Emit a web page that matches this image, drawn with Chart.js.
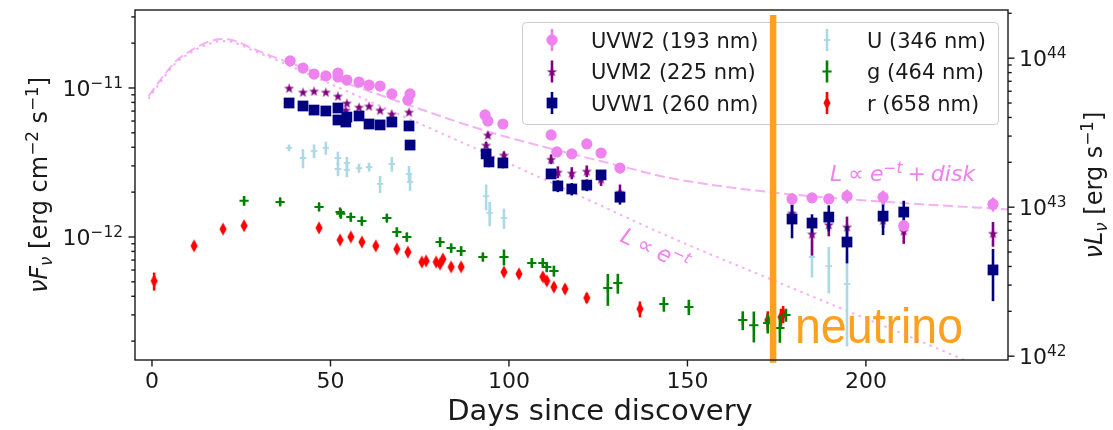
<!DOCTYPE html>
<html>
<head>
<meta charset="utf-8">
<script src="https://cdn.jsdelivr.net/npm/chart.js@4"></script>
<style>
  html, body { margin: 0; padding: 0; background: #fff; }
</style>
</head>
<body>
<canvas id="grafico" width="1113" height="430"></canvas>
<script>
// --- Dados (fluxo νFν em erg cm^-2 s^-1, tempo em dias desde a descoberta) ---
const diasUVW2 = [38.7, 42.3, 45.4, 48.7, 52.1, 52.1, 54.6, 58.0, 60.8, 63.9, 67.2, 72.3, 71.7, 93.3, 94.1, 98.3,
  111.8, 113.4, 117.6, 121.8, 125.8, 131.1, 179.3, 184.9, 189.6, 194.7, 204.8, 210.6, 235.6];
const fluxoUVW2 = [1.52e-11, 1.36e-11, 1.24e-11, 1.205e-11, 1.26e-11, 1.186e-11, 1.13e-11, 1.096e-11, 1.047e-11, 1.03e-11,
  9.12e-12, 9.12e-12, 8.3e-12, 6.59e-12, 6.01e-12, 5.73e-12, 4.84e-12, 3.72e-12, 3.61e-12, 4.21e-12, 3.66e-12, 2.90e-12,
  1.80e-12, 1.83e-12, 1.80e-12, 1.88e-12, 1.85e-12, 1.19e-12, 1.66e-12];
const erroUVW2 = [2e-13, 2e-13, 2e-13, 2e-13, 2e-13, 2e-13, 2e-13, 2e-13, 2e-13, 2e-13, 2e-13, 2e-13, 2e-13,
  1.5e-13, 1.5e-13, 1.5e-13, 1.5e-13, 1.5e-13, 1.5e-13, 1.5e-13, 1.5e-13, 1.5e-13,
  1.6e-13, 1e-13, 1.2e-13, 2e-13, 2e-13, 1e-13, 1.8e-13];

const diasUVM2 = [38.4, 42.3, 45.4, 48.7, 52.1, 54.6, 54.3, 58.0, 60.8, 63.9, 67.2, 72.0, 94.1, 93.6, 98.6,
  111.8, 113.7, 117.6, 121.8, 125.8, 131.1, 179.3, 184.9, 189.6, 194.7, 204.8, 210.6, 235.6];
const fluxoUVM2 = [1.00e-11, 9.40e-12, 9.55e-12, 9.40e-12, 8.84e-12, 7.93e-12, 7.11e-12, 7.45e-12, 7.57e-12, 7.11e-12,
  6.70e-12, 6.90e-12, 4.84e-12, 4.14e-12, 3.55e-12, 3.33e-12, 2.73e-12, 2.69e-12, 2.77e-12, 2.45e-12, 2.00e-12,
  1.45e-12, 1.05e-12, 1.21e-12, 1.17e-12, 1.30e-12, 1.10e-12, 1.06e-12];
const erroUVM2 = [1.5e-13, 1.5e-13, 1.5e-13, 1.5e-13, 1.5e-13, 1.5e-13, 1.5e-13, 1.5e-13, 1.5e-13, 1.5e-13, 1.5e-13, 1.5e-13,
  2e-13, 2e-13, 2e-13, 2.5e-13, 2.5e-13, 2.5e-13, 2.5e-13, 2.5e-13, 2.5e-13,
  2e-13, 3e-13, 2e-13, 2e-13, 1.5e-13, 2e-13, 2e-13];

const diasUVW1 = [38.4, 42.3, 45.4, 48.7, 52.1, 52.1, 54.6, 54.3, 58.0, 60.8, 63.9, 67.2, 72.0, 72.3, 93.6, 94.4, 98.3,
  111.8, 113.7, 117.6, 121.8, 125.8, 131.1, 179.3, 184.9, 189.6, 194.7, 204.8, 210.6, 235.6];
const fluxoUVW1 = [7.93e-12, 7.57e-12, 7.11e-12, 7.01e-12, 7.34e-12, 6.10e-12, 6.38e-12, 5.91e-12, 6.49e-12, 5.73e-12,
  5.65e-12, 5.91e-12, 5.56e-12, 4.14e-12, 3.61e-12, 3.19e-12, 3.14e-12, 2.65e-12, 2.20e-12, 2.10e-12, 2.23e-12, 2.61e-12,
  1.85e-12, 1.32e-12, 1.24e-12, 1.36e-12, 9.25e-13, 1.38e-12, 1.47e-12, 6.01e-13];
const erroUVW1 = [2e-13, 2e-13, 2e-13, 2e-13, 2e-13, 2e-13, 2e-13, 2e-13, 2e-13, 2e-13, 2e-13, 2e-13, 2e-13, 2e-13,
  2.5e-13, 2.5e-13, 2.5e-13, 2e-13, 2e-13, 2e-13, 2e-13, 2e-13, 2e-13,
  3.4e-13, 1.8e-13, 2.7e-13, 2.6e-13, 3.5e-13, 2.8e-13, 2.3e-13];

const diasU = [38.4, 42.3, 45.4, 48.7, 52.1, 52.1, 54.6, 54.6, 58.0, 60.8, 63.9, 67.2, 72.0, 72.3, 93.6, 94.6, 98.6,
  184.9, 189.6, 194.7];
const fluxoU = [3.96e-12, 3.39e-12, 3.78e-12, 3.96e-12, 3.39e-12, 2.86e-12, 3.14e-12, 2.82e-12, 2.90e-12, 2.95e-12,
  2.27e-12, 3.09e-12, 2.65e-12, 2.34e-12, 1.88e-12, 1.45e-12, 1.34e-12, 7.34e-13, 6.38e-13, 4.84e-13];
const erroU = [2e-13, 5e-13, 4e-13, 4e-13, 3.5e-13, 3e-13, 3e-13, 3e-13, 2e-13, 2e-13, 3e-13, 3.5e-13, 3.5e-13, 3e-13,
  3.7e-13, 2.7e-13, 2.1e-13, 2e-13, 2.2e-13, 3e-13];

const diasG = [25.8, 35.9, 46.8, 52.7, 52.9, 55.7, 58.8, 65.8, 68.6, 71.4, 80.7, 83.8, 86.6, 92.7, 98.6,
  106.4, 109.5, 110.6, 112.6, 127.7, 130.5, 143.4, 150.4, 165.5, 168.6, 172.5, 175.9, 177.6];
const fluxoG = [1.75e-12, 1.72e-12, 1.59e-12, 1.47e-12, 1.43e-12, 1.36e-12, 1.28e-12, 1.34e-12, 1.08e-12, 1.00e-12,
  9.25e-13, 8.43e-13, 8.05e-13, 7.34e-13, 7.34e-13, 6.70e-13, 6.70e-13, 6.30e-13, 5.92e-13,
  4.55e-13, 4.91e-13, 3.55e-13, 3.39e-13, 2.77e-13, 2.56e-13, 2.65e-13, 2.45e-13, 3.00e-13];
const erroG = [1.3e-13, 1e-13, 1e-13, 1e-13, 1e-13, 9e-14, 9e-14, 8e-14, 8e-14, 7e-14, 7e-14, 6e-14, 6e-14, 5e-14, 9e-14,
  5e-14, 5e-14, 5e-14, 5e-14, 1.1e-13, 7.5e-14, 4e-14, 4e-14, 4e-14, 6e-14, 4e-14, 5e-14, 3e-14];

const diasR = [0.6, 11.8, 19.9, 25.8, 46.8, 52.7, 55.7, 58.8, 62.7, 68.6, 71.7, 75.6, 76.8, 79.6, 80.7, 81.5, 83.8, 86.6,
  98.6, 102.8, 109.5, 110.6, 112.6, 115.7, 121.8, 136.7, 172.5, 176.2, 176.8];
const fluxoR = [5.07e-13, 8.71e-13, 1.13e-12, 1.19e-12, 1.15e-12, 9.55e-13, 1.00e-12, 9.25e-13, 8.71e-13, 8.30e-13,
  7.92e-13, 6.79e-13, 6.90e-13, 6.79e-13, 6.59e-13, 7.11e-13, 6.30e-13, 6.30e-13,
  5.82e-13, 5.65e-13, 5.40e-13, 5.07e-13, 4.62e-13, 4.48e-13, 3.90e-13, 3.29e-13, 2.77e-13, 2.90e-13, 3.04e-13];
const erroR = [7e-14, 5e-14, 5e-14, 5e-14, 5e-14, 4e-14, 4e-14, 4e-14, 4e-14, 4e-14, 4e-14, 3e-14, 3e-14, 3e-14, 3e-14,
  3e-14, 3e-14, 3e-14, 3e-14, 3e-14, 3e-14, 3e-14, 3e-14, 3e-14, 3e-14, 4e-14, 4e-14, 4e-14, 4e-14];

// Modelos: decaimento exponencial com e sem disco
const diasModeloDisco = [-1, 2.8, 6.4, 11.2, 15.7, 19.6, 22.4, 28.0, 33.1, 38.1, 63.9, 89.1, 99.4, 131.1, 145.1, 173.1, 201.1, 240];
const fluxoModeloDisco = [8.8e-12, 1.167e-11, 1.49e-11, 1.80e-11, 2.04e-11, 2.13e-11, 2.10e-11, 1.85e-11, 1.65e-11, 1.49e-11,
  8.97e-12, 5.56e-12, 4.69e-12, 3.00e-12, 2.49e-12, 2.00e-12, 1.75e-12, 1.53e-12];
const diasModeloExp = [-1, 2.8, 6.4, 11.2, 15.7, 19.6, 22.4, 28.0, 37.3, 63.9, 105.9, 145.1, 177.9, 225.5, 240];
const fluxoModeloExp = [8.43e-12, 1.13e-11, 1.45e-11, 1.75e-11, 1.97e-11, 2.07e-11, 2.04e-11, 1.80e-11, 1.45e-11,
  7.57e-12, 2.69e-12, 1.00e-12, 4.69e-13, 1.57e-13, 1.1e-13];

// Chegada do neutrino
const diaNeutrino = 174.0;
const faixaNeutrino = [1.43e-13, 3.09e-11];

// --- Eixos ---
const ticksX = [0, 50, 100, 150, 200];
const ticksEsq = [1e-12, 1e-11];
const rotulosEsq = ['−12', '−11'];
const ticksDir = [1e42, 1e43, 1e44];
const rotulosDir = ['42', '43', '44'];
const limX = [-4.76, 239.8];
const limY = [1.494e-13, 3.337e-11];
const fatorLum = Math.pow(10, 54.8); // νFν -> νLν

const laranja = '#fba11f';
const corModelo = 'rgba(238,130,238,0.62)';
const corTexto = '#1a1a1a';
const fonte = '"DejaVu Sans"';

// --- Marcadores desenhados em canvas ---
function estrela(raio, cor) {
  const c = document.createElement('canvas');
  const s = Math.ceil(raio * 2 + 2);
  c.width = s; c.height = s;
  const g = c.getContext('2d');
  g.fillStyle = cor;
  g.beginPath();
  for (let k = 0; k < 10; k++) {
    const r = k % 2 ? raio * 0.382 : raio;
    const a = -Math.PI / 2 + k * Math.PI / 5;
    g.lineTo(s / 2 + r * Math.cos(a), s / 2 + 0.6 + r * Math.sin(a));
  }
  g.closePath();
  g.fill();
  return c;
}

function losango(meiaLarg, meiaAlt, cor) {
  const c = document.createElement('canvas');
  c.width = Math.ceil(meiaLarg * 2 + 2);
  c.height = Math.ceil(meiaAlt * 2 + 2);
  const g = c.getContext('2d');
  const cx = c.width / 2, cy = c.height / 2;
  g.fillStyle = cor;
  g.beginPath();
  g.moveTo(cx, cy - meiaAlt);
  g.lineTo(cx + meiaLarg, cy);
  g.lineTo(cx, cy + meiaAlt);
  g.lineTo(cx - meiaLarg, cy);
  g.closePath();
  g.fill();
  return c;
}

const estrelaRoxa = estrela(5.4, '#800080');
const losangoVermelho = losango(3.6, 6.4, '#ff0000');

function serie(rotulo, dias, fluxos, erros, estilo) {
  return Object.assign({
    label: rotulo,
    data: dias.map((d, i) => ({ x: d, y: fluxos[i] })),
    errors: erros,
    showLine: false,
    borderWidth: 0
  }, estilo);
}

const dsUVW2 = serie('UVW2 (193 nm)', diasUVW2, fluxoUVW2, erroUVW2,
  { pointStyle: 'circle', pointRadius: 5.6, backgroundColor: '#ee82ee', borderColor: '#ee82ee' });
const dsUVM2 = serie('UVM2 (225 nm)', diasUVM2, fluxoUVM2, erroUVM2,
  { pointStyle: estrelaRoxa, pointRadius: 6, backgroundColor: '#800080', borderColor: '#800080' });
const dsUVW1 = serie('UVW1 (260 nm)', diasUVW1, fluxoUVW1, erroUVW1,
  { pointStyle: 'rect', pointRadius: 7.6, backgroundColor: '#000080', borderColor: '#000080' });
const dsU = serie('U (346 nm)', diasU, fluxoU, erroU,
  { pointStyle: 'cross', pointRadius: 3.2, backgroundColor: '#add8e6', borderColor: '#add8e6', borderWidth: 1.8 });
const dsG = serie('g (464 nm)', diasG, fluxoG, erroG,
  { pointStyle: 'cross', pointRadius: 4.6, backgroundColor: '#008000', borderColor: '#008000', borderWidth: 2 });
const dsR = serie('r (658 nm)', diasR, fluxoR, erroR,
  { pointStyle: losangoVermelho, pointRadius: 6, backgroundColor: '#ff0000', borderColor: '#ff0000' });

// --- Funções de texto (estilo mathtext) ---
function escreveMat(ctx, partes, x, y, tam, medir) {
  let pos = x;
  ctx.textAlign = 'left';
  ctx.textBaseline = 'alphabetic';
  for (const p of partes) {
    if (p.esp) { pos += p.esp; continue; }
    const t = p.ind ? tam * 0.7 : tam;
    ctx.font = `${p.it ? 'italic ' : ''}${t}px ${fonte}`;
    const dy = p.ind === 'sup' ? -tam * 0.38 : p.ind === 'sub' ? tam * 0.22 : 0;
    if (!medir) ctx.fillText(p.t, pos, y + dy);
    pos += ctx.measureText(p.t).width;
  }
  return pos - x;
}

function potencia(ctx, exp, x, yc, tam, alinhar) {
  const partes = [{ t: '10' }, { t: exp, ind: 'sup' }];
  const w = escreveMat(ctx, partes, 0, 0, tam, true);
  const x0 = alinhar === 'right' ? x - w : x;
  escreveMat(ctx, partes, x0, yc + tam * 0.36, tam, false);
}

const rotuloEsq = [{ t: 'ν', it: true }, { t: 'F', it: true }, { t: 'ν', it: true, ind: 'sub' },
  { t: ' [erg cm' }, { t: '−2', ind: 'sup' }, { t: ' s' }, { t: '−1', ind: 'sup' }, { t: ']' }];
const rotuloDir = [{ t: 'ν', it: true }, { t: 'L', it: true }, { t: 'ν', it: true, ind: 'sub' },
  { t: ' [erg s' }, { t: '−1', ind: 'sup' }, { t: ']' }];
const textoExp = [{ t: 'L', it: true }, { esp: 6 }, { t: '∝' }, { esp: 6 }, { t: 'e', it: true },
  { t: '−', ind: 'sup' }, { t: 't', it: true, ind: 'sup' }];
const textoDisco = textoExp.concat([{ esp: 5 }, { t: '+' }, { esp: 5 }, { t: 'disk', it: true }]);

// --- Plugins ---
const barrasErro = {
  id: 'barrasErro',
  beforeDatasetDraw(chart, args) {
    const ds = chart.data.datasets[args.index];
    if (!ds.errors) return;
    const { ctx, chartArea: a, scales: { x, y } } = chart;
    ctx.save();
    ctx.beginPath();
    ctx.rect(a.left, a.top, a.right - a.left, a.bottom - a.top);
    ctx.clip();
    ctx.strokeStyle = ds.borderColor;
    ctx.lineWidth = 2.6;
    ds.data.forEach((p, i) => {
      const e = ds.errors[i];
      const px = x.getPixelForValue(p.x);
      const baixo = p.y - e > 0 ? p.y - e : y.min * 0.1;
      ctx.beginPath();
      ctx.moveTo(px, y.getPixelForValue(baixo));
      ctx.lineTo(px, y.getPixelForValue(p.y + e));
      ctx.stroke();
    });
    ctx.restore();
  }
};

const legendaAnotacoes = {
  id: 'legendaAnotacoes',
  beforeDatasetsDraw(chart) {
    const { ctx } = chart;
    ctx.save();
    // caixa da legenda
    ctx.fillStyle = 'rgba(255,255,255,0.8)';
    ctx.strokeStyle = '#cccccc';
    ctx.lineWidth = 1;
    ctx.beginPath();
    ctx.roundRect(522.5, 22.5, 476, 102, 4);
    ctx.fill();
    ctx.stroke();

    const colunas = [[dsUVW2, dsUVM2, dsUVW1], [dsU, dsG, dsR]];
    const xMarc = [552, 827], xTxt = [591, 867], yLin = [40, 71.5, 103];
    colunas.forEach((col, c) => col.forEach((ds, l) => {
      const yc = yLin[l];
      ctx.strokeStyle = ds.borderColor;
      ctx.fillStyle = ds.backgroundColor;
      ctx.lineWidth = 2.6;
      ctx.beginPath();
      ctx.moveTo(xMarc[c], yc - 11);
      ctx.lineTo(xMarc[c], yc + 11);
      ctx.stroke();
      ctx.lineWidth = ds.borderWidth;
      Chart.helpers.drawPoint(ctx, {
        pointStyle: ds.pointStyle, radius: ds.pointRadius, rotation: 0, borderWidth: ds.borderWidth
      }, xMarc[c], yc);
      ctx.fillStyle = corTexto;
      ctx.font = `21px ${fonte}`;
      ctx.textAlign = 'left';
      ctx.textBaseline = 'alphabetic';
      ctx.fillText(ds.label, xTxt[c], yc + 7.6);
    }));

    // anotações dos modelos
    ctx.fillStyle = '#ee82ee';
    escreveMat(ctx, textoDisco, 830, 181, 22, false);
    ctx.save();
    ctx.translate(619, 241);
    ctx.rotate(25 * Math.PI / 180);
    escreveMat(ctx, textoExp, 0, 0, 22, false);
    ctx.restore();

    // rótulo do neutrino
    ctx.save();
    ctx.fillStyle = laranja;
    ctx.font = '50px "Liberation Sans"';
    ctx.textAlign = 'left';
    ctx.translate(795, 343);
    ctx.scale(0.93, 1);
    ctx.fillText('neutrino', 0, 0);
    ctx.restore();
    ctx.restore();
  }
};

const eixos = {
  id: 'eixos',
  afterDraw(chart) {
    const { ctx, chartArea: a, scales: { x, y, yR } } = chart;
    const traco = (x1, y1, x2, y2) => { ctx.beginPath(); ctx.moveTo(x1, y1); ctx.lineTo(x2, y2); ctx.stroke(); };
    ctx.save();
    ctx.strokeStyle = corTexto;
    ctx.fillStyle = corTexto;
    ctx.lineWidth = 1.4;
    ctx.strokeRect(a.left, a.top, a.right - a.left, a.bottom - a.top);

    // eixo x
    ctx.font = `22px ${fonte}`;
    ctx.textAlign = 'center';
    ctx.textBaseline = 'alphabetic';
    ticksX.forEach(v => {
      const px = x.getPixelForValue(v);
      traco(px, a.bottom, px, a.bottom + 6.5);
      ctx.fillText(String(v), px, a.bottom + 28);
    });
    ctx.font = `29px ${fonte}`;
    ctx.fillText('Days since discovery', 600, 420);

    // ticks logarítmicos (esquerda e direita)
    for (let e = -14; e <= -10; e++) {
      for (let k = 1; k <= 9; k++) {
        const v = k * Math.pow(10, e);
        if (v < y.min || v > y.max) continue;
        const py = y.getPixelForValue(v);
        traco(a.left, py, a.left - (k === 1 ? 6.5 : 3.7), py);
      }
    }
    for (let e = 41; e <= 45; e++) {
      for (let k = 1; k <= 9; k++) {
        const v = k * Math.pow(10, e);
        if (v < yR.min || v > yR.max) continue;
        const py = yR.getPixelForValue(v);
        traco(a.right, py, a.right + (k === 1 ? 6.5 : 3.7), py);
      }
    }
    ticksEsq.forEach((v, i) => potencia(ctx, rotulosEsq[i], a.left - 12, y.getPixelForValue(v), 22, 'right'));
    ticksDir.forEach((v, i) => potencia(ctx, rotulosDir[i], a.right + 11, yR.getPixelForValue(v), 22, 'left'));

    // títulos verticais
    [[rotuloEsq, 47], [rotuloDir, 1102]].forEach(([partes, px]) => {
      const w = escreveMat(ctx, partes, 0, 0, 24, true);
      ctx.save();
      ctx.translate(px, (a.top + a.bottom) / 2);
      ctx.rotate(-Math.PI / 2);
      escreveMat(ctx, partes, -w / 2, 0, 24, false);
      ctx.restore();
    });
    ctx.restore();
  }
};

// --- Gráfico ---
new Chart(document.getElementById('grafico').getContext('2d'), {
  type: 'scatter',
  data: {
    datasets: [
      {
        label: 'neutrino',
        data: faixaNeutrino.map(v => ({ x: diaNeutrino, y: v })),
        showLine: true, pointRadius: 0, borderColor: laranja, borderWidth: 6.5,
        borderCapStyle: 'butt', clip: false
      },
      dsUVW2, dsUVW1, dsUVM2, dsU, dsG, dsR,
      {
        label: 'disco',
        data: diasModeloDisco.map((d, i) => ({ x: d, y: fluxoModeloDisco[i] })),
        showLine: true, pointRadius: 0, borderColor: corModelo, borderWidth: 2,
        borderDash: [10, 4.5], cubicInterpolationMode: 'monotone'
      },
      {
        label: 'exponencial',
        data: diasModeloExp.map((d, i) => ({ x: d, y: fluxoModeloExp[i] })),
        showLine: true, pointRadius: 0, borderColor: corModelo, borderWidth: 2,
        borderDash: [2.6, 4.4], cubicInterpolationMode: 'monotone'
      }
    ]
  },
  options: {
    responsive: false,
    devicePixelRatio: 1,
    animation: false,
    events: [],
    layout: { padding: { left: 135, right: 105, top: 10, bottom: 70 } },
    plugins: { legend: { display: false }, tooltip: { enabled: false } },
    scales: {
      x: { type: 'linear', min: limX[0], max: limX[1], display: false, bounds: 'data' },
      y: { type: 'logarithmic', min: limY[0], max: limY[1], display: false, bounds: 'data' },
      yR: { type: 'logarithmic', axis: 'y', min: limY[0] * fatorLum, max: limY[1] * fatorLum, display: false, bounds: 'data' }
    }
  },
  plugins: [barrasErro, legendaAnotacoes, eixos]
});
</script>
</body>
</html>
